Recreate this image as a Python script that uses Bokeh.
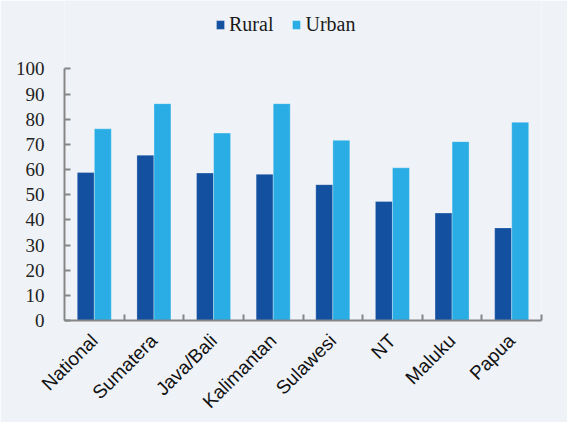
import math
import numpy as np
from bokeh.plotting import figure
from bokeh.models import Range1d, FixedTicker, Legend, LegendItem, ColumnDataSource
from bokeh.embed import file_html
from bokeh.resources import INLINE

regions = ["National", "Sumatera", "Java/Bali", "Kalimantan", "Sulawesi", "NT", "Maluku", "Papua"]
rural = [58.8, 65.7, 58.6, 58.1, 54.0, 47.3, 42.7, 36.8]
urban = [76.2, 86.2, 74.5, 86.2, 71.6, 60.7, 71.1, 78.8]
y_ticks = [0, 10, 20, 30, 40, 50, 60, 70, 80, 90, 100]

RURAL_C = "#1350A0"
URBAN_C = "#2AADE4"
BG = "#EFF3F8"
AXIS_C = "#868686"

n = len(regions)
centers = np.arange(n) + 0.5
src = ColumnDataSource(dict(
    xr=centers - 0.143, xu=centers + 0.143, rural=rural, urban=urban,
))

p = figure(width=567, height=422, output_backend="svg", toolbar_location=None,
           x_range=Range1d(0, n), y_range=Range1d(0, 127.2),
           min_border_left=64, min_border_right=26, min_border_top=0, min_border_bottom=99)
p.background_fill_color = BG
p.border_fill_color = BG
p.outline_line_color = None
p.xgrid.grid_line_color = None
p.ygrid.grid_line_color = None

r1 = p.vbar(x="xr", top="rural", width=0.285, source=src, fill_color=RURAL_C,
            line_color="#ffffff", line_alpha=0.25, line_width=1)
r2 = p.vbar(x="xu", top="urban", width=0.285, source=src, fill_color=URBAN_C,
            line_color="#ffffff", line_alpha=0.3, line_width=1)

# y axis
ya = p.yaxis[0]
ya.ticker = FixedTicker(ticks=y_ticks)
ya.bounds = (0, 100)
ya.axis_line_color = AXIS_C
ya.axis_line_width = 2
ya.major_tick_line_color = AXIS_C
ya.major_tick_line_width = 2
ya.major_tick_in = 6
ya.major_tick_out = 0
ya.minor_tick_line_color = None
ya.major_label_standoff = 20
ya.major_label_text_font = "Liberation Serif"
ya.major_label_text_font_size = "19px"
ya.major_label_text_color = "#222222"

# x axis: labels at centers, ticks at boundaries
xa = p.xaxis[0]
xa.ticker = FixedTicker(ticks=list(centers), minor_ticks=list(range(1, n + 1)))
xa.major_label_overrides = {float(c): r for c, r in zip(centers, regions)}
xa.axis_line_color = AXIS_C
xa.axis_line_width = 2
xa.major_tick_line_color = None
xa.major_tick_in = 0
xa.major_tick_out = 0
xa.minor_tick_line_color = AXIS_C
xa.minor_tick_line_width = 2
xa.minor_tick_in = 6
xa.minor_tick_out = 0
xa.major_label_orientation = math.pi / 4
xa.major_label_standoff = 17
xa.major_label_text_font = "Liberation Sans"
xa.major_label_text_font_size = "19px"
xa.major_label_text_color = "#111111"

legend = Legend(items=[LegendItem(label="Rural", renderers=[r1]),
                       LegendItem(label="Urban", renderers=[r2])],
                location=(151, 284), orientation="horizontal",
                background_fill_alpha=0, border_line_color=None,
                padding=0, margin=0, spacing=18, glyph_width=10, glyph_height=11,
                label_standoff=4, label_text_font="Liberation Serif",
                label_text_font_size="20px", label_text_color="#1a1a1a")
p.add_layout(legend, "center")

open("out.html", "w").write(file_html(p, INLINE))
